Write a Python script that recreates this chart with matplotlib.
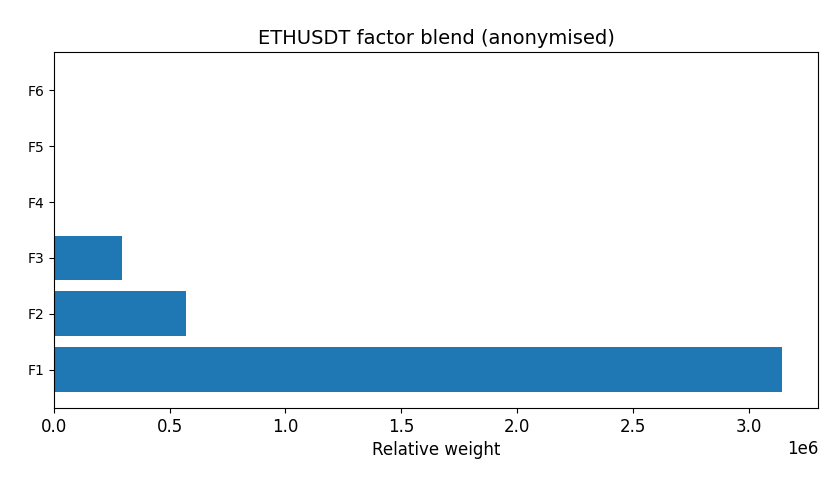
import matplotlib
matplotlib.use("Agg")
import matplotlib.pyplot as plt

factors = ["F1", "F2", "F3", "F4", "F5", "F6"]
weights = [3.142e6, 0.569e6, 0.293e6, 0.0, 0.0, 0.0]

fig, ax = plt.subplots(figsize=(8.4, 4.9), dpi=100)
ax.barh(factors, weights, color="#1f77b4")
ax.set_title("ETHUSDT factor blend (anonymised)", fontsize=14)
ax.set_xlabel("Relative weight", fontsize=12)
ax.tick_params(axis="x", labelsize=12)
ax.tick_params(axis="y", labelsize=10)
ax.xaxis.get_offset_text().set_fontsize(12)
fig.subplots_adjust(left=0.064, right=0.974, top=0.894, bottom=0.167)
fig.savefig("out.png")
